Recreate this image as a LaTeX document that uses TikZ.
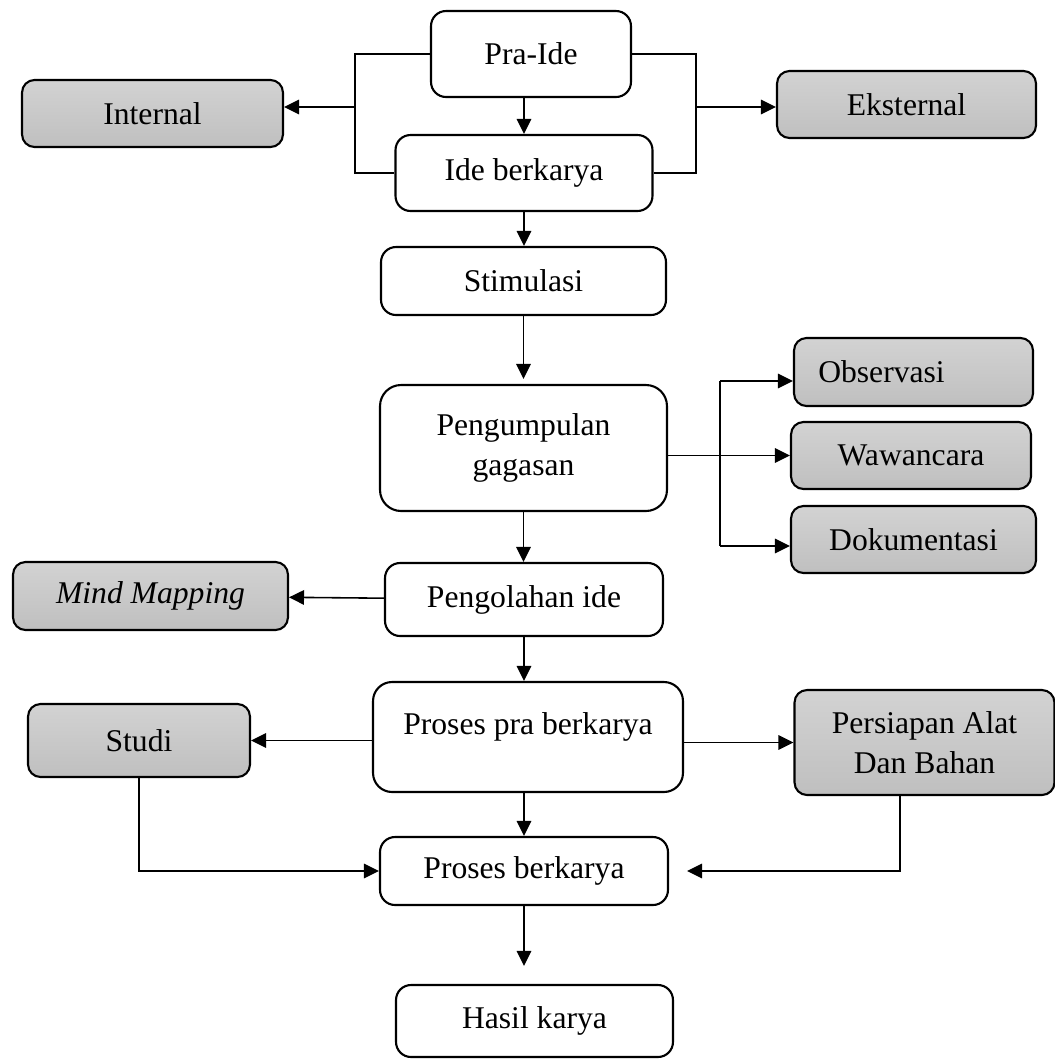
\documentclass[tikz,border=0pt]{standalone}
\usepackage{fontspec}
\setmainfont{Liberation Serif}
\usepackage{tikz}
\usetikzlibrary{arrows.meta}

\begin{document}
\begin{tikzpicture}[
  x=0.02cm, y=-0.02cm,
  mainbox/.style={rectangle, rounded corners=0.3cm, draw=black, fill=white, line width=1.2pt,
    font=\fontsize{18pt}{22.8pt}\selectfont, align=center, inner sep=2pt},
  sidebox/.style={mainbox, top color=gray!35, bottom color=gray!50, rounded corners=0.25cm},
  arr/.style={-{Triangle[length=0.3cm,width=0.29cm]}, line width=0.9pt},
  conn/.style={line width=0.9pt}
]
  \useasboundingbox (0,0) rectangle (1055,1059);
  % main flow
  \node[mainbox, minimum width=4cm, minimum height=1.72cm] (praide) at (531,54) {Pra-Ide};
  \node[mainbox, minimum width=5.14cm, minimum height=1.52cm] (idebk) at (524,173) {Ide berkarya};
  \node[mainbox, minimum width=5.7cm, minimum height=1.36cm] (stimulasi) at (523.5,281) {Stimulasi};
  \node[mainbox, minimum width=5.74cm, minimum height=2.52cm, rounded corners=0.42cm] (kumpul) at (523.5,448) {Pengumpulan\\gagasan};
  \node[mainbox, minimum width=5.56cm, minimum height=1.46cm] (olah) at (524,599.5) {Pengolahan ide};
  \node[mainbox, minimum width=6.2cm, minimum height=2.2cm, rounded corners=0.38cm, text depth=0.55cm] (prapros) at (528,737) {Proses pra berkarya};
  \node[mainbox, minimum width=5.76cm, minimum height=1.36cm] (proses) at (524,871) {Proses berkarya};
  \node[mainbox, minimum width=5.54cm, minimum height=1.44cm] (hasil) at (534.5,1021) {Hasil karya};
  % side boxes
  \node[sidebox, minimum width=5.22cm, minimum height=1.34cm] (internal) at (152.5,113.5) {Internal};
  \node[sidebox, minimum width=5.18cm, minimum height=1.34cm] (eksternal) at (906.5,104.5) {Eksternal};
  \node[sidebox, minimum width=4.78cm, minimum height=1.36cm] (observasi) at (913.5,372) {Observasi\hspace{1.28cm}};
  \node[sidebox, minimum width=4.8cm, minimum height=1.34cm] (wawancara) at (911,455.5) {Wawancara};
  \node[sidebox, minimum width=4.9cm, minimum height=1.34cm] (dokumentasi) at (913.5,539.5) {Dokumentasi};
  \node[sidebox, minimum width=5.5cm, minimum height=1.36cm] (mindmap) at (150.5,596) {\textit{Mind Mapping}};
  \node[sidebox, minimum width=4.44cm, minimum height=1.46cm] (studi) at (139,740.5) {Studi};
  \node[sidebox, minimum width=5.2cm, minimum height=2.1cm] (persiapan) at (924.5,742.5) {Persiapan Alat\\Dan Bahan};
  % brackets
  \coordinate (lbrk) at (355,107);
  \coordinate (rbrk) at (696,107);
  \coordinate (ktop) at (720,381);
  \coordinate (kbot) at (720,546);
  \draw[conn] (praide.west) -| (lbrk) |- (idebk.west);
  \draw[conn] (praide.east) -| (rbrk) |- (idebk.east);
  \draw[arr] (lbrk) -- (lbrk -| internal.east);
  \draw[arr] (rbrk) -- (rbrk -| eksternal.west);
  \draw[arr] (idebk.north |- praide.south) -- (idebk.north);
  \draw[arr] (idebk) -- (idebk |- stimulasi.north);
  \draw[arr, shorten >=0.1cm] (stimulasi) -- (stimulasi |- kumpul.north);
  \draw[conn] (ktop) -- (kbot);
  \draw[arr] (ktop) -- (ktop -| observasi.west);
  \draw[arr] (kumpul.east |- wawancara.west) -- (wawancara.west);
  \draw[arr] (kbot) -- (kbot -| dokumentasi.west);
  \draw[arr] (kumpul) -- (kumpul |- olah.north);
  \draw[arr] (olah) -- (mindmap);
  \draw[arr] (olah.south) -- (olah.south |- prapros.north);
  \draw[arr] (prapros.west |- studi.east) -- (studi.east);
  \draw[arr] (prapros.east |- persiapan.west) -- (persiapan.west);
  \draw[arr] (proses.north |- prapros.south) -- (proses.north);
  \draw[arr] (studi.south) |- (proses.west);
  \draw[arr, shorten >=0.36cm] ([xshift=-0.49cm]persiapan.south) |- (proses.east);
  \draw[arr, shorten >=0.36cm] (proses.south) -- (proses.south |- hasil.north);
\end{tikzpicture}
\end{document}
